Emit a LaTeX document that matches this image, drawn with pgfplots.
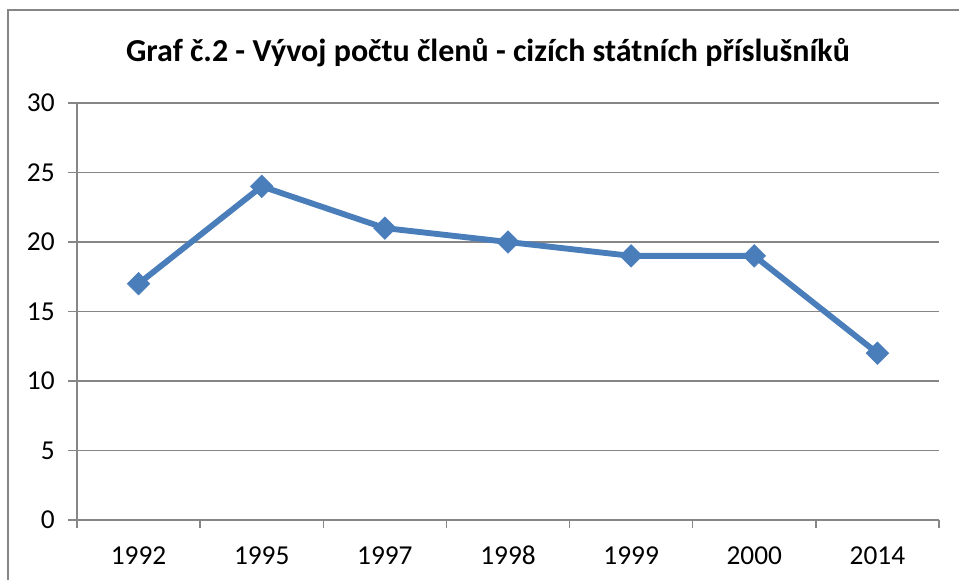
\documentclass[border=0pt]{standalone}
\usepackage{pgfplots}
\pgfplotsset{compat=1.18}
\usepackage{fontspec}
\setmainfont{Carlito}
\definecolor{gridgray}{HTML}{868686}
\definecolor{serblue}{HTML}{4A7EBB}
\begin{document}
\begin{tikzpicture}
\useasboundingbox (0,0) rectangle (719.25pt,435pt);
\draw[gridgray, line width=1.2pt] (6pt,-20pt) rectangle (740pt,427.5pt);
\node[anchor=base, font=\fontsize{24pt}{28pt}\selectfont\bfseries] at (366pt,388.5pt) {Graf č.2 - Vývoj počtu členů - cizích státních příslušníků};
\begin{axis}[
  at={(57.75pt,45pt)}, anchor=south west,
  scale only axis, width=646.5pt, height=312.75pt,
  xmin=0.5, xmax=7.5, ymin=0, ymax=30,
  axis lines*=left,
  axis line style={draw=gridgray, line width=1pt, -},
  xtick={1,...,7},
  xticklabels={1992,1995,1997,1998,1999,2000,2014},
  xtick style={draw=none},
  minor xtick={0.5,1.5,...,7.5},
  minor x tick style={draw=gridgray, line width=1pt},
  minor tick length=6pt,
  ytick={0,5,...,30},
  ytick style={draw=gridgray, line width=1pt},
  major tick length=6.75pt,
  tick align=outside,
  ymajorgrids,
  grid style={gridgray, line width=1pt},
  ticklabel style={font=\fontsize{20.5pt}{23pt}\selectfont},
  /pgf/number format/assume math mode=true,
  xticklabel style={yshift=-9pt, text height=14pt, text depth=0pt},
  yticklabel style={xshift=-6.5pt},
]
\addplot[serblue, line width=4.4pt, mark=square*, mark size=6pt, mark options={fill=serblue, draw=serblue, line width=0.4pt, rotate=45}]
coordinates {(1,17) (2,24) (3,21) (4,20) (5,19) (6,19) (7,12)};
\end{axis}
\end{tikzpicture}
\end{document}
